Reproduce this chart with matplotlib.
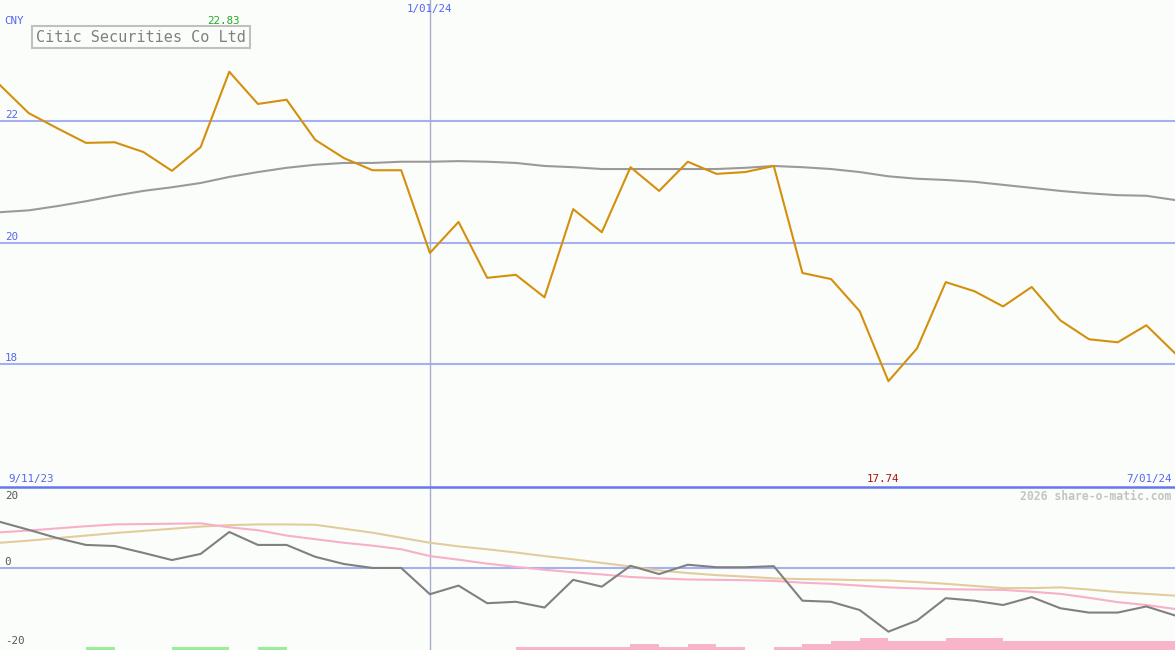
import numpy as np
import matplotlib
matplotlib.use("Agg")
import matplotlib.pyplot as plt
import matplotlib.transforms as mtransforms
from matplotlib.lines import Line2D

# weekly closes, 40-week average, and the lower-panel indicators
price = [22.59, 22.13, 21.88, 21.64, 21.65, 21.49, 21.18, 21.57, 22.81, 22.28,
         22.35, 21.69, 21.39, 21.19, 21.19, 19.83, 20.34, 19.42, 19.47, 19.10,
         20.55, 20.17, 21.24, 20.85, 21.33, 21.13, 21.16, 21.26, 19.50, 19.40,
         18.87, 17.72, 18.26, 19.35, 19.20, 18.95, 19.27, 18.72, 18.41, 18.36,
         18.64, 18.18]
avg40 = [20.50, 20.53, 20.60, 20.68, 20.77, 20.85, 20.91, 20.98, 21.08, 21.16,
         21.23, 21.28, 21.31, 21.31, 21.33, 21.33, 21.34, 21.33, 21.31, 21.26,
         21.24, 21.21, 21.21, 21.21, 21.21, 21.21, 21.23, 21.26, 21.24, 21.21,
         21.16, 21.09, 21.05, 21.03, 21.00, 20.95, 20.90, 20.85, 20.81, 20.78,
         20.77, 20.70]
momentum = [12.8, 10.6, 8.3, 6.4, 6.1, 4.2, 2.2, 3.9, 10.0, 6.4,
            6.4, 3.1, 1.1, 0.0, 0.0, -7.3, -4.9, -9.8, -9.4, -11.0,
            -3.3, -5.2, 0.6, -1.7, 0.9, 0.2, 0.2, 0.5, -9.1, -9.4,
            -11.7, -17.7, -14.6, -8.4, -9.1, -10.3, -8.1, -11.2, -12.4, -12.4,
            -10.7, -13.2]
pink_ma = [9.9, 10.4, 11.0, 11.6, 12.1, 12.2, 12.3, 12.4, 11.3, 10.5,
           9.0, 8.0, 7.0, 6.2, 5.2, 3.3, 2.3, 1.2, 0.3, -0.5,
           -1.2, -1.8, -2.5, -2.9, -3.2, -3.3, -3.4, -3.6, -4.1, -4.4,
           -4.9, -5.4, -5.7, -5.9, -6.0, -6.1, -6.6, -7.2, -8.3, -9.5,
           -10.3, -11.4]
tan_ma = [7.0, 7.6, 8.3, 9.0, 9.7, 10.3, 10.9, 11.5, 11.9, 12.1,
          12.1, 12.0, 10.9, 9.8, 8.4, 7.0, 6.0, 5.2, 4.3, 3.3,
          2.4, 1.4, 0.4, -0.7, -1.4, -2.0, -2.4, -2.9, -3.1, -3.2,
          -3.4, -3.5, -3.9, -4.4, -5.0, -5.6, -5.6, -5.4, -6.0, -6.7,
          -7.2, -7.7]
# signal strength: + buy (green), - sell (pink)
signal = [0, 0, 0, 1, 0, 0, 1, 1, 0, 1,
          0, 0, 0, 0, 0, 0, 0, 0, -1, -1,
          -1, -1, -2, -1, -2, -1, 0, -1, -2, -3,
          -4, -3, -3, -4, -4, -3, -3, -3, -3, -3,
          -3, 0]

name = "Citic Securities Co Ltd"
currency = "CNY"
start_label, mid_label, end_label = "9/11/23", "1/01/24", "7/01/24"
mid_idx = 15
price_ticks = [22, 20, 18]
ind_ticks = [20, 0, -20]
ind_label_pos = [20, 1.7, -20.3]

W, H = 1175, 650
bg = "#fbfdfb"
blue = "#5566ee"
grid = "#a4b0f0"
mono = "DejaVu Sans Mono"
fs = 7.8

fig = plt.figure(figsize=(W / 100, H / 100), dpi=100, facecolor=bg)
split = 487
ax = fig.add_axes([0, (H - split) / H, 1, split / H])
ax2 = fig.add_axes([0, 0, 1, (H - split) / H])
for a in (ax, ax2):
    a.set_facecolor(bg)
    a.set_axis_off()
    a.set_xlim(0, len(price) - 1)

x = np.arange(len(price))

# top panel
ax.set_ylim(15.98, 23.99)
yt1 = mtransforms.blended_transform_factory(ax.transAxes, ax.transData)
for t in price_ticks:
    ax.axhline(t, color=grid, lw=1.5, zorder=1)
    ax.text(0.004, t + 0.1, str(t), transform=yt1, color=blue, fontsize=fs, family=mono, va="center", ha="left")
ax.axvline(mid_idx, color="#a8aec8", lw=1, zorder=1)
ax.plot(x, avg40, color="#9a9a9a", lw=1.5, zorder=2)
ax.plot(x, price, color="#d4900c", lw=1.5, zorder=3)

bt = mtransforms.blended_transform_factory(ax.transData, ax.transAxes)
imax, imin = int(np.argmax(price)), int(np.argmin(price))
ax.text(imax - 0.2, 1 - 21 / split, "22.83", transform=bt, color="#22aa22", fontsize=fs, family=mono, ha="center", va="center")
ax.text(imin - 0.2, 1 - 479 / split, "17.74", transform=bt, color="#aa1111", fontsize=fs, family=mono, ha="center", va="center")
ax.text(mid_idx, 1 - 9 / split, mid_label, transform=bt, color=blue, fontsize=fs, family=mono, ha="center", va="center")
ax.text(0.007, 1 - 479 / split, start_label, transform=ax.transAxes, color=blue, fontsize=fs, family=mono, ha="left", va="center")
ax.text(0.997, 1 - 479 / split, end_label, transform=ax.transAxes, color=blue, fontsize=fs, family=mono, ha="right", va="center")
ax.text(0.004, 1 - 21 / split, currency, transform=ax.transAxes, color=blue, fontsize=fs, family=mono, ha="left", va="center")
ax.text(36 / W, 1 - 37 / split, name, transform=ax.transAxes, color="#808080", fontsize=11, family=mono,
        ha="left", va="center",
        bbox=dict(boxstyle="square,pad=0.25", fc=bg, ec="#c0c0c0", lw=1.5))

# bottom panel
ylo, yhi = -22.8, 22.5
ax2.set_ylim(ylo, yhi)
ax2.axhline(0, color=grid, lw=1.5, zorder=1)
ax2.axvline(mid_idx, color="#a8aec8", lw=1, zorder=1)
ax2.plot(x, tan_ma, color="#e2cc9c", lw=1.5, zorder=2)
ax2.plot(x, pink_ma, color="#f8b0c8", lw=1.5, zorder=2)
ax2.plot(x, momentum, color="#808080", lw=1.5, zorder=3)
step = 3 / 3.6
heights = [abs(s) * step for s in signal]
colors = ["#99ee99" if s > 0 else "#f8b4c8" for s in signal]
ax2.bar(x + 0.5, heights, width=1.0, bottom=ylo, color=colors, lw=0, zorder=2)
yt = mtransforms.blended_transform_factory(ax2.transAxes, ax2.transData)
for t, p in zip(ind_ticks, ind_label_pos):
    ax2.text(0.004, p, str(t), transform=yt, color="#555555", fontsize=fs, family=mono, ha="left", va="center")
ax2.text(0.997, 1 - 9 / (H - split), "2026 share-o-matic.com", transform=ax2.transAxes, color="#c4c4c4",
         fontsize=8.3, family=mono, weight="bold", ha="right", va="center")

fig.add_artist(Line2D([0, 1], [(H - split) / H] * 2, color="#6677ee", lw=1.8))

fig.savefig("out.png", dpi=100, facecolor=bg)
